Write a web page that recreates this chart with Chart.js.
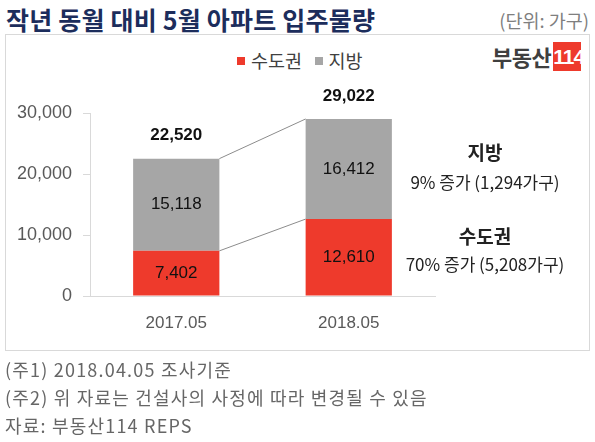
<!DOCTYPE html>
<html>
<head>
<meta charset="utf-8">
<script src="https://cdn.jsdelivr.net/npm/chart.js@4.4.0/dist/chart.umd.min.js"></script>
<style>
  body { margin: 0; width: 595px; height: 442px; background: #fff; position: relative; overflow: hidden;
         font-family: "Noto Sans CJK KR", "Noto Sans", sans-serif; }
  .abs { position: absolute; white-space: nowrap; }
  #title { left: 6px; top: 1px; font-size: 25px; font-weight: bold; color: #1c2d5c; line-height: 36px; letter-spacing: 0.2px; }
  #unit { right: 6px; top: 3px; font-size: 18.5px; color: #7f7f7f; line-height: 34px; }
  #frame { left: 5px; top: 34px; width: 585px; height: 317px; border: 1px solid #d9d9d9; box-sizing: border-box; }
  #legend { left: 237px; top: 48px; font-size: 18.5px; color: #404040; line-height: 24px; }
  #legend i { display: inline-block; width: 8px; height: 8px; margin-right: 6px; vertical-align: 3px; }
  #logo { left: 492px; top: 42px; height: 29px; line-height: 29px; }
  #logo b { font-size: 22px; color: #3f3f3f; letter-spacing: -0.5px; vertical-align: top; }
  #logo span { display: inline-block; background: #ee3a2c; color: #fff; font-weight: bold; font-size: 21px;
               width: 28px; height: 29px; line-height: 29px; text-align: center; vertical-align: top;
               font-family: "Liberation Sans Narrow", "Liberation Sans", sans-serif; margin-left: 2px; letter-spacing: -1px; }
  .note { left: 5px; font-size: 18px; color: #666; line-height: 22px; letter-spacing: 1.2px; }
  .ann { left: 405px; width: 160px; text-align: center; color: #222; font-size: 17px; line-height: 20px; }
  .ann.h { font-weight: bold; font-size: 19px; }
  canvas { position: absolute; left: 0; top: 0; }
</style>
</head>
<body>
<div id="frame" class="abs"></div>
<div id="title" class="abs">작년 동월 대비 5월 아파트 입주물량</div>
<div id="unit" class="abs">(단위: 가구)</div>
<div id="legend" class="abs"><i style="background:#ee3a2c"></i>수도권&nbsp;&nbsp;&nbsp;<i style="background:#a6a6a6"></i>지방</div>
<div id="logo" class="abs"><b>부동산</b><span>114</span></div>
<canvas id="chart" width="595" height="442"></canvas>
<div class="abs ann h" style="top:142px">지방</div>
<div class="abs ann" style="top:172px">9% 증가 (1,294가구)</div>
<div class="abs ann h" style="top:226px">수도권</div>
<div class="abs ann" style="top:254px">70% 증가 (5,208가구)</div>
<div class="abs note" style="top:358px">(주1) 2018.04.05 조사기준</div>
<div class="abs note" style="top:386px">(주2) 위 자료는 건설사의 사정에 따라 변경될 수 있음</div>
<div class="abs note" style="top:414px">자료: 부동산114 REPS</div>
<script>
const categories = ['2017.05', '2018.05'];
const capital = [7402, 12610];   // 수도권
const region = [15118, 16412];   // 지방
const yTicks = [0, 10000, 20000, 30000];

const fmt = v => v.toLocaleString('en-US');

const labelsPlugin = {
  id: 'labels',
  afterDatasetsDraw(chart) {
    const ctx = chart.ctx;
    const m0 = chart.getDatasetMeta(0).data;
    const m1 = chart.getDatasetMeta(1).data;

    // connector lines between bars
    ctx.save();
    ctx.strokeStyle = '#8c8c8c';
    ctx.lineWidth = 1;
    [m0, m1].forEach(bars => {
      const a = bars[0], b = bars[1];
      ctx.beginPath();
      ctx.moveTo(a.x + a.width / 2, a.y);
      ctx.lineTo(b.x - b.width / 2, b.y);
      ctx.stroke();
    });

    ctx.textAlign = 'center';
    ctx.textBaseline = 'middle';
    ctx.fillStyle = '#111';
    ctx.font = '17px "Liberation Sans", Arial, sans-serif';
    chart.data.datasets.forEach((ds, i) => {
      chart.getDatasetMeta(i).data.forEach((bar, j) => {
        ctx.fillText(fmt(ds.data[j]), bar.x, (bar.y + bar.base) / 2);
      });
    });

    ctx.font = 'bold 17px "Liberation Sans", Arial, sans-serif';
    m1.forEach((bar, j) => {
      ctx.fillText(fmt(capital[j] + region[j]), bar.x, bar.y - 23);
    });
    ctx.restore();
  }
};

new Chart(document.getElementById('chart'), {
  type: 'bar',
  data: {
    labels: categories,
    datasets: [
      { label: '수도권', data: capital, backgroundColor: '#ee3a2c' },
      { label: '지방', data: region, backgroundColor: '#a6a6a6' }
    ]
  },
  options: {
    responsive: false,
    animation: false,
    layout: { padding: { left: 0, top: 113, right: 160, bottom: 101 } },
    datasets: { bar: { barPercentage: 0.5, categoryPercentage: 1.0 } },
    plugins: { legend: { display: false }, tooltip: { enabled: false } },
    scales: {
      x: {
        stacked: true,
        afterFit: s => { s.height = 45; },
        grid: { display: false },
        border: { color: '#d9d9d9' },
        ticks: { padding: 9, color: '#595959', font: { size: 17, family: '"Liberation Sans", Arial, sans-serif' } }
      },
      y: {
        stacked: true,
        min: 0,
        max: 30000,
        afterFit: s => { s.width = 90; },
        afterBuildTicks: s => { s.ticks = yTicks.map(v => ({ value: v })); },
        grid: { drawOnChartArea: false, tickLength: 7, color: '#d9d9d9' },
        border: { color: '#d9d9d9' },
        ticks: { padding: 11, color: '#595959', font: { size: 18, family: '"Liberation Sans", Arial, sans-serif' },
                 callback: v => fmt(v) }
      }
    }
  },
  plugins: [labelsPlugin]
});
</script>
</body>
</html>
